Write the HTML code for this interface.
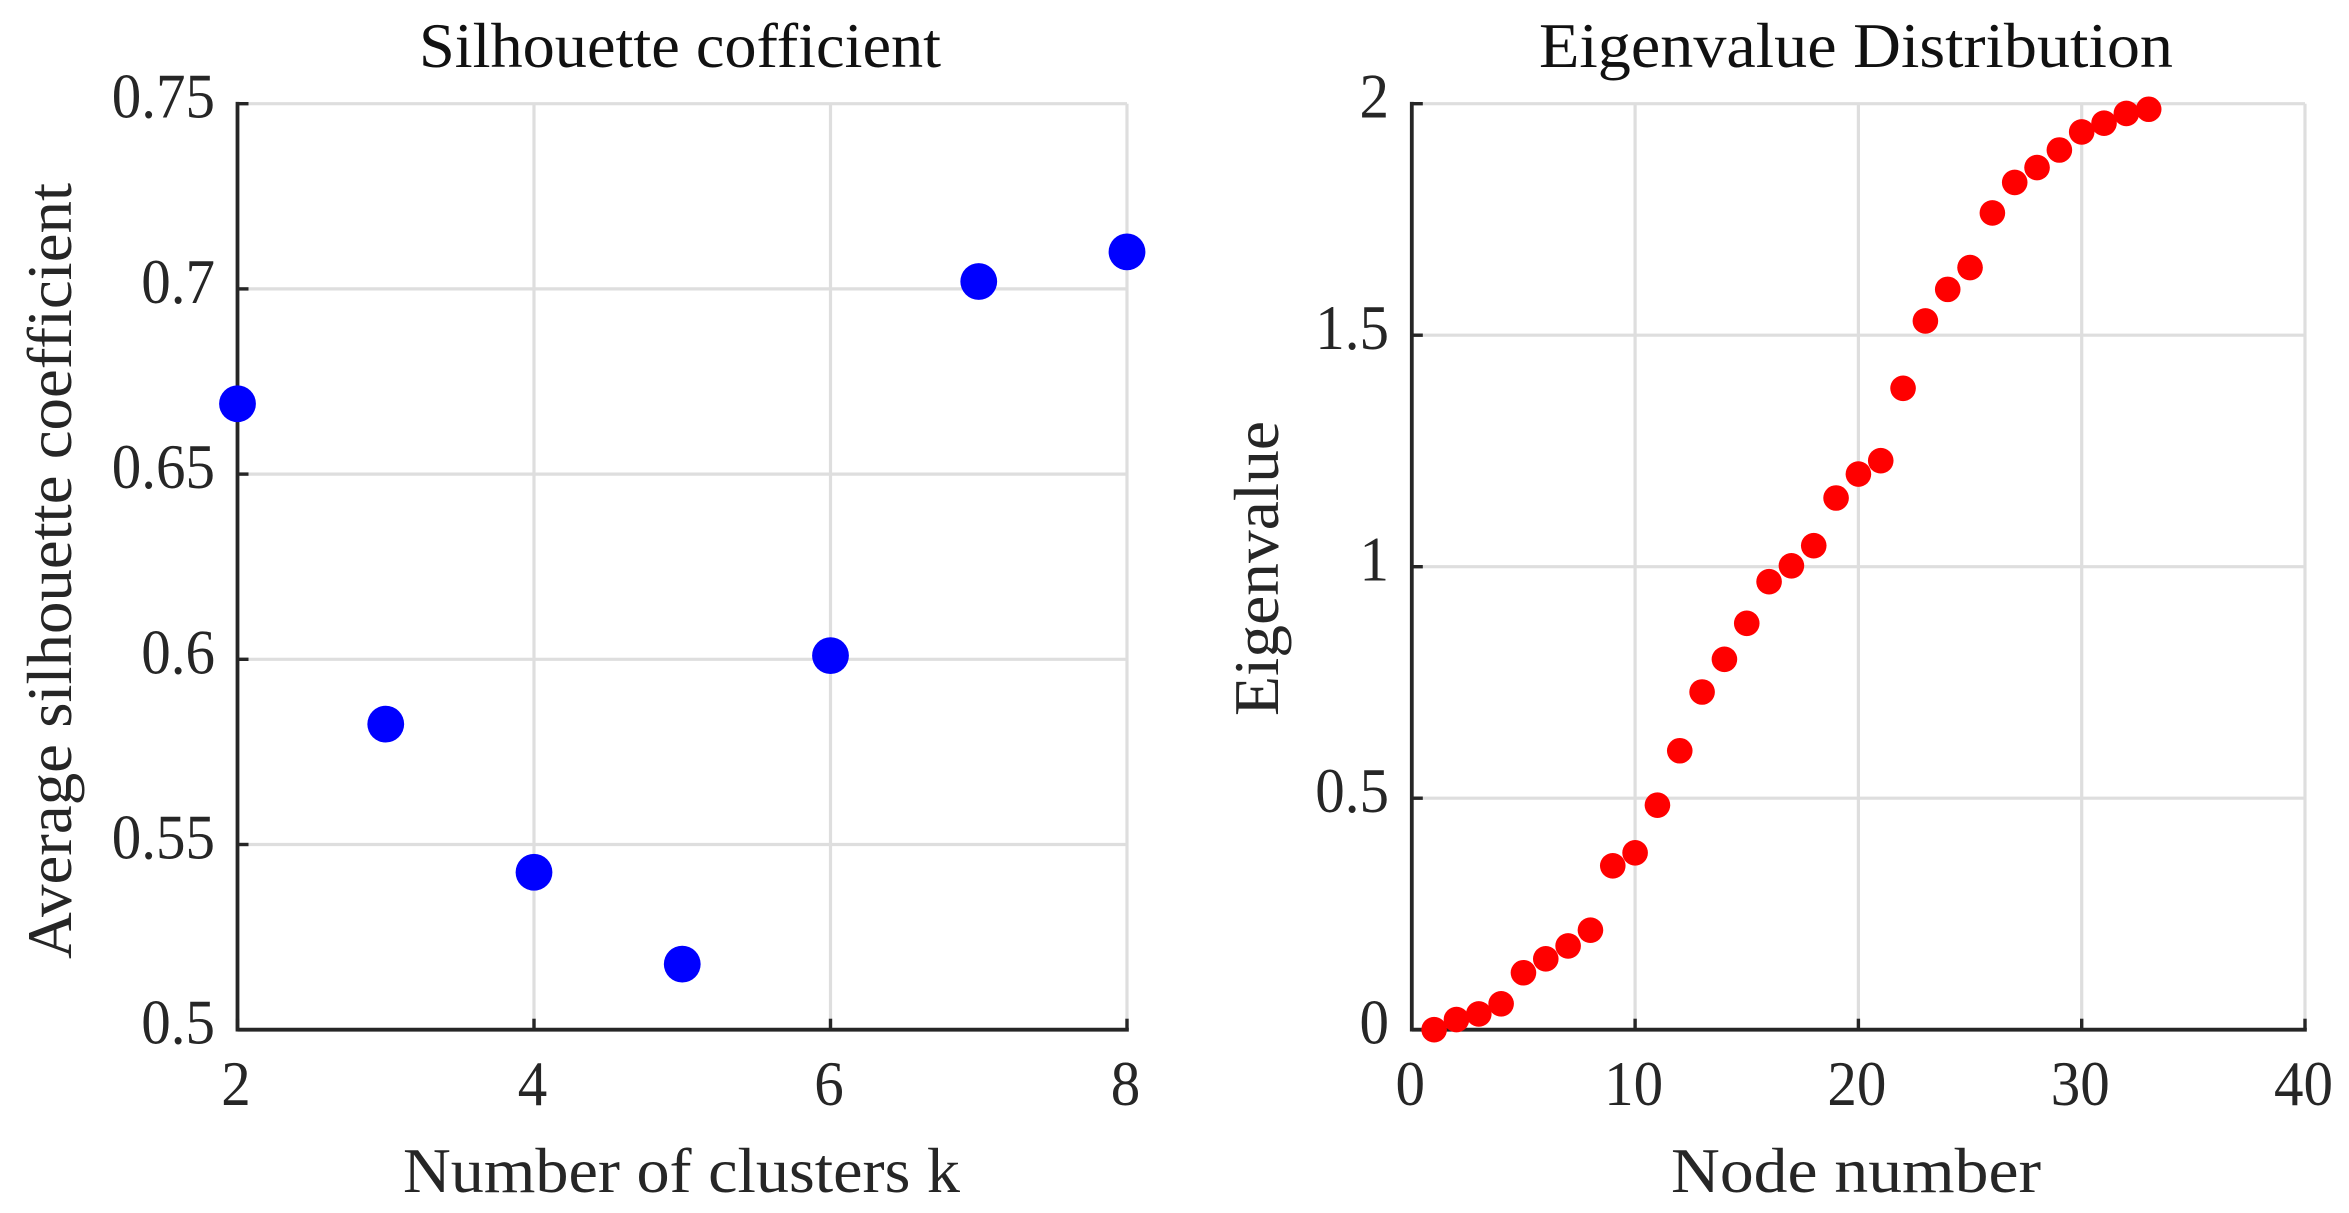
<!DOCTYPE html>
<html lang="en">
<head>
<meta charset="utf-8">
<title>Silhouette coefficient and eigenvalue distribution</title>
<style>
html,body{margin:0;padding:0;background:#fff;}
svg{display:block;}
text{font-family:"Liberation Serif",serif;fill:#262626;}
</style>
</head>
<body>
<svg id="figure" xmlns="http://www.w3.org/2000/svg" width="2349" height="1213" viewBox="0 0 2349 1213">
  <rect x="0" y="0" width="2349" height="1213" fill="#ffffff"/>
  <g id="left-panel"></g>
  <g id="right-panel"></g>
  <text x="419" y="67" font-size="63" textLength="522" lengthAdjust="spacingAndGlyphs" style="fill:#111">Silhouette cofficient</text>
  <text x="403" y="1192" font-size="63" textLength="557" lengthAdjust="spacingAndGlyphs">Number of clusters k</text>
  <text transform="translate(71,959) rotate(-90)" font-size="63" textLength="776" lengthAdjust="spacingAndGlyphs">Average silhouette coefficient</text>
  <text x="1539" y="67" font-size="63" textLength="634" lengthAdjust="spacingAndGlyphs" style="fill:#111">Eigenvalue Distribution</text>
  <text x="1671" y="1192" font-size="63" textLength="370" lengthAdjust="spacingAndGlyphs">Node number</text>
  <text transform="translate(1278,716) rotate(-90)" font-size="63" textLength="295" lengthAdjust="spacingAndGlyphs">Eigenvalue</text>
</svg>
<script>
const clusterCounts = [2, 3, 4, 5, 6, 7, 8];
const silhouetteValues = [0.669, 0.5825, 0.5425, 0.5177, 0.601, 0.702, 0.710];
const silhouetteXTicks = [2, 4, 6, 8];
const silhouetteYTicks = [0.5, 0.55, 0.6, 0.65, 0.7, 0.75];
const silhouetteYLabels = ['0.5', '0.55', '0.6', '0.65', '0.7', '0.75'];

const nodeNumbers = [1,2,3,4,5,6,7,8,9,10,11,12,13,14,15,16,17,18,19,20,21,22,23,24,25,26,27,28,29,30,31,32,33];
const eigenvalues = [0,0.022,0.034,0.056,0.123,0.153,0.181,0.215,0.354,0.382,0.485,0.6025,0.7294,0.8,0.8777,0.9676,1.002,1.0454,1.1484,1.2,1.229,1.3853,1.5307,1.599,1.646,1.764,1.83,1.862,1.9,1.939,1.958,1.979,1.988];
const eigenXTicks = [0, 10, 20, 30, 40];
const eigenYTicks = [0, 0.5, 1, 1.5, 2];
const eigenYLabels = ['0', '0.5', '1', '1.5', '2'];

const SVG_NS = 'http://www.w3.org/2000/svg';
const AXIS_COLOR = '#262626';
const GRID_COLOR = '#dedede';
const TOP = 103.7, BOTTOM = 1029.7;
const TICK_FONT = 63;
const TICK_EM_WIDTH = 59;

function make(parent, tag, attrs, content) {
  const el = document.createElementNS(SVG_NS, tag);
  for (const key in attrs) el.setAttribute(key, attrs[key]);
  if (content !== undefined) el.textContent = content;
  parent.appendChild(el);
  return el;
}

function labelWidth(text) {
  let ems = 0;
  for (const ch of text) ems += ch === '.' ? 0.25 : 0.5;
  return ems * TICK_EM_WIDTH;
}

function drawPanel(cfg) {
  const g = document.getElementById(cfg.id);
  const sx = v => cfg.left + (v - cfg.xMin) / (cfg.xMax - cfg.xMin) * (cfg.right - cfg.left);
  const sy = v => BOTTOM - (v - cfg.yMin) / (cfg.yMax - cfg.yMin) * (BOTTOM - TOP);

  cfg.xTicks.forEach(t => {
    if (sx(t) > cfg.left + 1) {
      const grid = make(g, 'line', {x1: sx(t), x2: sx(t), y1: TOP, y2: BOTTOM, stroke: GRID_COLOR, 'stroke-width': 3.2});
      
      
    }
  });
  cfg.yTicks.forEach(t => {
    if (sy(t) < BOTTOM - 1) {
      const grid = make(g, 'line', {x1: cfg.left, x2: cfg.right, y1: sy(t), y2: sy(t), stroke: GRID_COLOR, 'stroke-width': 3.2});
      
      
    }
  });

  const yAxis = make(g, 'line', {x1: cfg.left, x2: cfg.left, y1: TOP - 1.8, y2: BOTTOM + 1.8, stroke: AXIS_COLOR, 'stroke-width': 3.8});
  
  
  const xAxis = make(g, 'line', {x1: cfg.left, x2: cfg.right + 1.8, y1: BOTTOM, y2: BOTTOM, stroke: AXIS_COLOR, 'stroke-width': 3.8});
  
  

  cfg.xTicks.forEach(t => {
    const tick = make(g, 'line', {x1: sx(t), x2: sx(t), y1: BOTTOM, y2: BOTTOM - 11, stroke: AXIS_COLOR, 'stroke-width': 3.4});
    
    
    const text = String(t);
    const label = make(g, 'text', {x: sx(t) - 1.5, y: 1105, 'font-size': TICK_FONT, 'text-anchor': 'middle', textLength: labelWidth(text), lengthAdjust: 'spacingAndGlyphs'}, text);
    
    
  });
  cfg.yTicks.forEach((t, i) => {
    const tick = make(g, 'line', {x1: cfg.left, x2: cfg.left + 11, y1: sy(t), y2: sy(t), stroke: AXIS_COLOR, 'stroke-width': 3.4});
    
    
    const text = cfg.yLabels[i];
    const label = make(g, 'text', {x: cfg.labelRight, y: sy(t) + 14, 'font-size': TICK_FONT, 'text-anchor': 'end', textLength: labelWidth(text), lengthAdjust: 'spacingAndGlyphs'}, text);
    
    
  });

  cfg.xs.forEach((x, i) => {
    const point = make(g, 'circle', {cx: sx(x), cy: sy(cfg.ys[i]), r: cfg.r, fill: cfg.color});
    
    
  });
}

drawPanel({
  id: 'left-panel', left: 237.5, right: 1127, xMin: 2, xMax: 8, yMin: 0.5, yMax: 0.75,
  xTicks: silhouetteXTicks, yTicks: silhouetteYTicks, yLabels: silhouetteYLabels,
  xs: clusterCounts, ys: silhouetteValues, r: 18.4, color: '#0000ff',
  labelRight: 215, pointName: 'silhouette-point'
});
drawPanel({
  id: 'right-panel', left: 1411.8, right: 2305, xMin: 0, xMax: 40, yMin: 0, yMax: 2,
  xTicks: eigenXTicks, yTicks: eigenYTicks, yLabels: eigenYLabels,
  xs: nodeNumbers, ys: eigenvalues, r: 12.8, color: '#ff0000',
  labelRight: 1389, pointName: 'eigenvalue-point'
});
</script>
</body>
</html>
